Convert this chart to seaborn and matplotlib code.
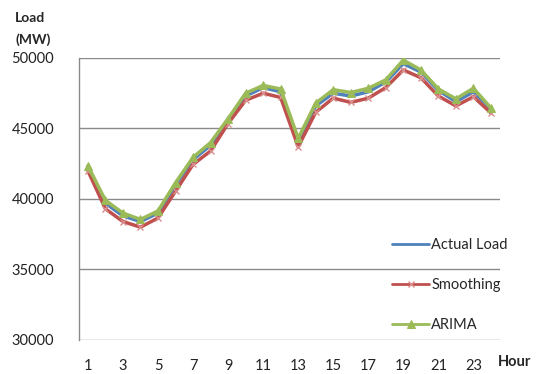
import matplotlib
matplotlib.use("Agg")
import matplotlib.pyplot as plt
import seaborn as sns
import pandas as pd

hours = list(range(1, 25))
actual = [42300, 39700, 38800, 38400, 39000, 41000, 42800, 43800, 45600, 47300, 47900, 47600,
          44100, 46600, 47500, 47300, 47600, 48300, 49600, 49000, 47700, 46900, 47600, 46400]
smoothing = [42000, 39300, 38400, 38000, 38650, 40550, 42450, 43400, 45350, 47000, 47500, 47200,
             43700, 46150, 47150, 46850, 47150, 47900, 49150, 48600, 47300, 46600, 47250, 46100]
arima = [42350, 39900, 39000, 38550, 39150, 41150, 42950, 44000, 45700, 47500, 48050, 47800,
         44300, 46800, 47750, 47550, 47850, 48450, 49850, 49150, 47800, 47100, 47850, 46450]
series_names = ["Actual Load", "Smoothing", "ARIMA"]
x_ticks = list(range(1, 24, 2))
y_ticks = [30000, 35000, 40000, 45000, 50000]

df = pd.DataFrame({"Hour": hours, "Actual Load": actual, "Smoothing": smoothing, "ARIMA": arima})

sns.set_theme(style="white")
plt.rcParams["font.family"] = ["Lato", "DejaVu Sans"]

fig = plt.figure(figsize=(5.42, 3.74), dpi=100)
ax = fig.add_axes([0.146, 0.091, 0.776, 0.754])

styles = {
    "Actual Load": dict(color="#4F81BD", marker=None),
    "Smoothing": dict(color="#C0504D", marker="x", markersize=4.5, markeredgewidth=1.0,
                      markeredgecolor="#D88F8D"),
    "ARIMA": dict(color="#9BBB59", marker="^", markersize=6, markeredgecolor="#9BBB59"),
}
for name in series_names:
    sns.lineplot(data=df, x="Hour", y=name, ax=ax, label=name, linewidth=2.5, **styles[name])

ax.set_xlim(0.5, 24.5)
ax.set_ylim(30000, 50000)
ax.set_xticks(x_ticks)
ax.set_xticklabels([str(t) for t in x_ticks])
ax.set_yticks(y_ticks)
ax.set_yticklabels([str(t) for t in y_ticks])
ax.tick_params(axis="both", length=0, labelsize=10.5, colors="#222222")
ax.tick_params(axis="x", pad=14)
ax.tick_params(axis="y", pad=18)
ax.yaxis.grid(True, color="#8a8a8a", linewidth=1.0)
ax.xaxis.grid(False)
for s in ["top", "right", "bottom"]:
    ax.spines[s].set_visible(False)
ax.spines["left"].set_color("#8a8a8a")
ax.spines["left"].set_linewidth(1.0)
ax.set_xlabel("")
ax.set_ylabel("")

fig.text(0.028, 0.952, "Load", fontsize=10, fontweight="bold", ha="left", va="center")
fig.text(0.028, 0.893, "(MW)", fontsize=10, fontweight="bold", ha="left", va="center")
fig.text(0.95, 0.032, "Hour", fontsize=10.5, fontweight="bold", ha="center", va="center")

leg = ax.legend(loc="lower right", bbox_to_anchor=(1.05, -0.02), frameon=False, fontsize=10.5,
                handlelength=2.5, handletextpad=0.15, labelspacing=1.8)
for h in leg.get_lines():
    h.set_linewidth(2)

fig.savefig("out.png", dpi=100)
